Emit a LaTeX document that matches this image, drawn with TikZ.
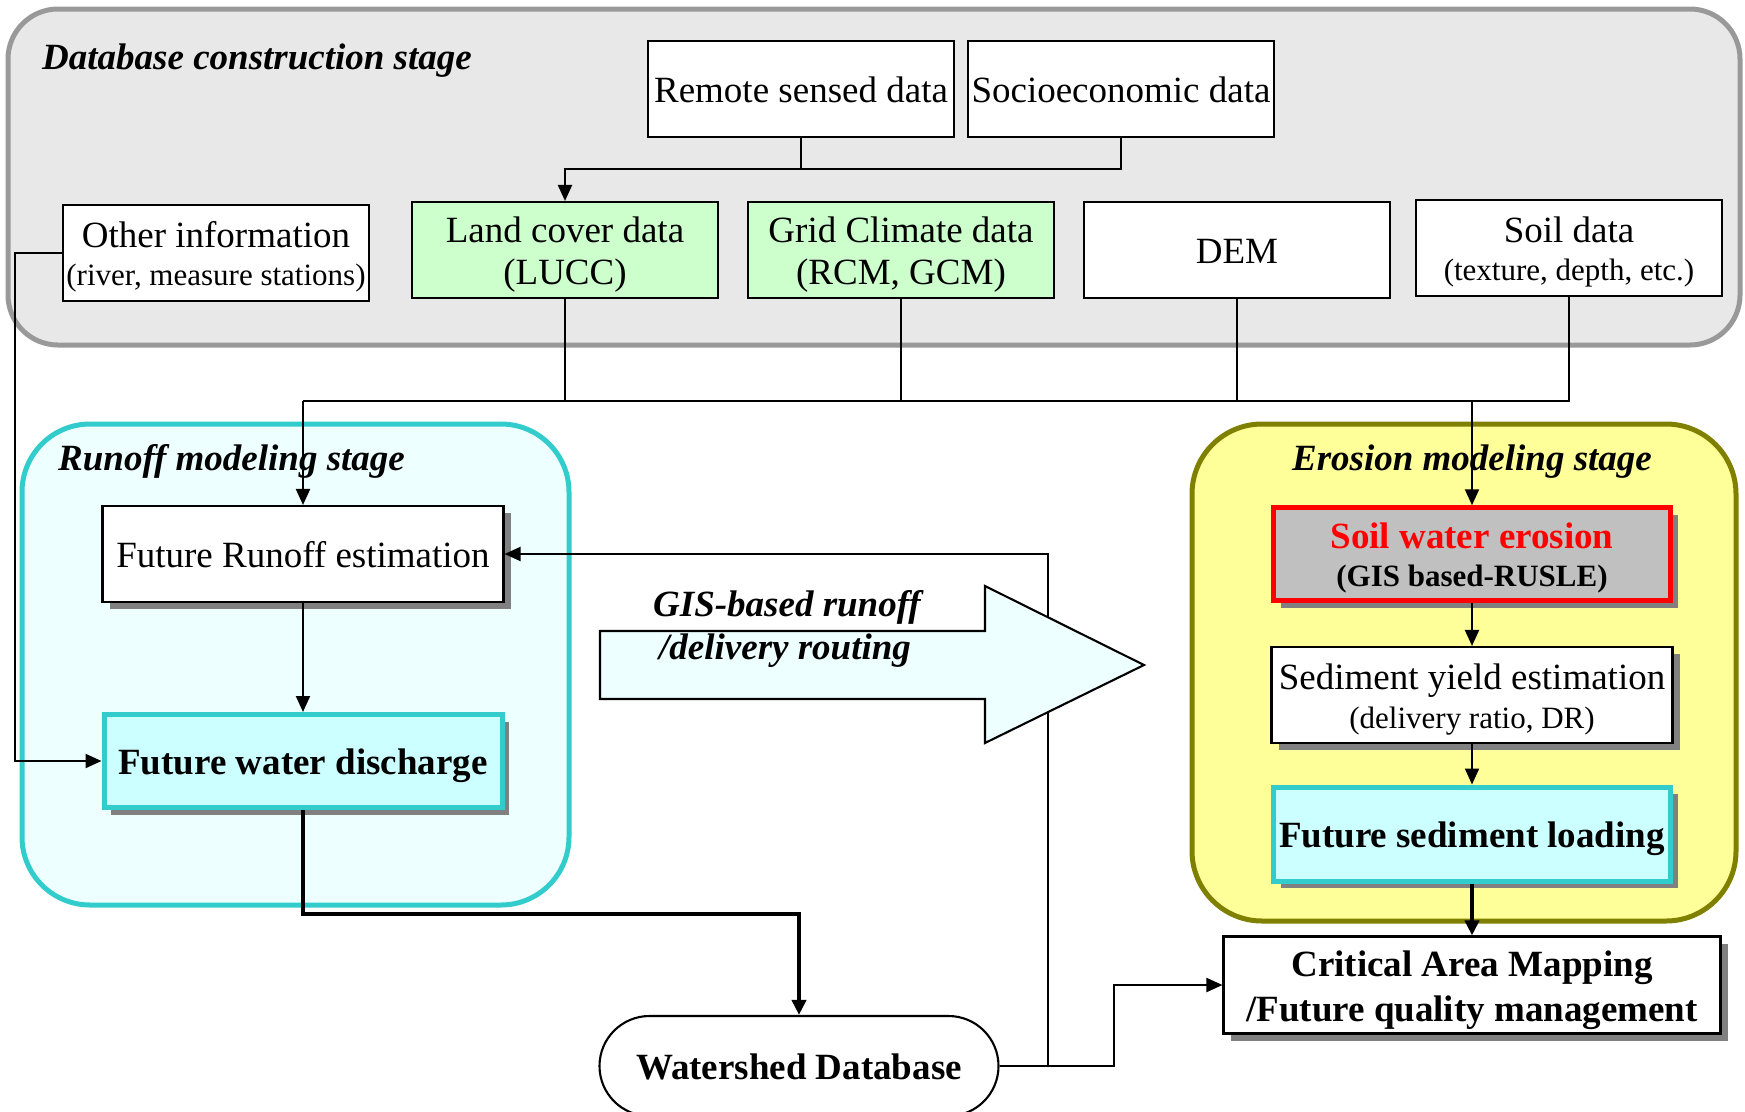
\documentclass[tikz,border=0pt]{standalone}
\usepackage{fontspec}
\setmainfont{Liberation Serif}
\usetikzlibrary{arrows.meta,shapes.misc,shadows}
\newcommand\bigtxt{\fontsize{37}{42}\selectfont}
\newcommand\subtxt{\fontsize{31}{38}\selectfont}
\newcommand\sth{\rule{0pt}{36pt}}
\newcommand\std{\rule[-9pt]{0pt}{9pt}}
\definecolor{dbfill}{HTML}{E8E8E8}
\definecolor{dbdraw}{HTML}{999999}
\definecolor{greenf}{HTML}{CCFFCC}
\definecolor{cyandraw}{HTML}{33CCCC}
\definecolor{runfill}{HTML}{EEFFFF}
\definecolor{cyanfill}{HTML}{CCFFFF}
\definecolor{erofill}{HTML}{FFFF99}
\definecolor{erodraw}{HTML}{808000}
\definecolor{swefill}{HTML}{C0C0C0}
\definecolor{shadowc}{HTML}{808080}
\begin{document}
\begin{tikzpicture}[x=1pt,y=-1pt,
  stage/.style={line width=5pt, inner sep=0pt},
  title/.style={font=\bigtxt\bfseries\itshape, inner sep=0pt},
  box/.style={draw=black, line width=2.1pt, fill=white, minimum width=306pt, minimum height=96pt, inner sep=0pt, align=center, font=\bigtxt},
  shad/.style={drop shadow={shadow xshift=7pt, shadow yshift=-7pt, fill=shadowc, opacity=1}},
  wbox/.style={box, minimum width=401pt, shad},
  conn/.style={line width=2.1pt},
  arr/.style={conn, -{Triangle[length=16pt,width=14pt]}},
  tarr/.style={line width=4pt, -{Triangle[length=15pt,width=14pt]}}
]
\useasboundingbox (0,0) rectangle (1745,1111);
% stages
\node[stage, draw=dbdraw, fill=dbfill, rounded corners=50pt, minimum width=1732pt, minimum height=336pt] (dbstage) at (874,177) {};
\node[stage, draw=cyandraw, fill=runfill, rounded corners=68pt, minimum width=547pt, minimum height=481pt] (runstage) at (295.5,664.5) {};
\node[stage, draw=erodraw, fill=erofill, rounded corners=70pt, minimum width=544pt, minimum height=497pt] (erostage) at (1464,672.5) {};
\node[title, anchor=west] (dbtitle) at (42,61) {Database construction stage};
\node[title, anchor=west] (runtitle) at (58,461) {Runoff modeling stage};
\node[title] (erotitle) at (1472,462) {Erosion modeling stage};
% database boxes
\node[box] (remote) at (801,89) {\sth Remote sensed data\std};
\node[box] (socio) at (1121,89) {\sth Socioeconomic data\std};
\node[box] (other) at (216,253) {\sth Other information\\[-4pt]{\subtxt(river, measure stations)\std}};
\node[box, fill=greenf] (land) at (565,250) {\sth Land cover data\\(LUCC)\std};
\node[box, fill=greenf] (grid) at (901,250) {\sth Grid Climate data\\(RCM, GCM)\std};
\node[box] (dem) at (1237,250) {\sth DEM\std};
\node[box] (soil) at (1569,248) {\sth Soil data\\[-4pt]{\subtxt(texture, depth, etc.)\std}};
% runoff boxes
\node[wbox] (fre) at (303,554) {\sth Future Runoff estimation\std};
\node[wbox, draw=cyandraw, line width=5pt, fill=cyanfill, minimum width=398pt, minimum height=93pt, font=\bigtxt\bfseries] (fwd) at (303,761) {\sth Future water discharge\std};
% erosion boxes
\node[wbox, draw=red, line width=4.5pt, fill=swefill, minimum width=397pt, minimum height=93pt, font=\bigtxt\bfseries] (swe) at (1472,554) {\sth\textcolor{red}{Soil water erosion}\\[-4pt]{\subtxt(GIS based-RUSLE)\std}};
\node[wbox] (sye) at (1472,695) {\sth Sediment yield estimation\\[-3pt]{\subtxt(delivery ratio, DR)\std}};
\node[wbox, draw=cyandraw, line width=5pt, fill=cyanfill, minimum width=397pt, minimum height=94pt, font=\bigtxt\bfseries] (fsl) at (1472,834) {\sth Future sediment loading\std};
\node[box, shad, minimum width=497pt, minimum height=97pt, font=\bigtxt\bfseries] (cam) at (1472,985) {\sth Critical Area Mapping\\[3pt]/Future quality management\std};
% watershed database
\node[draw=black, line width=2.1pt, fill=white, rounded rectangle, minimum width=399pt, minimum height=100pt, inner sep=0pt, font=\bigtxt\bfseries] (wd) at (799,1066) {\sth Watershed Database\std};
% connectors
\coordinate (busA) at (801,169);
\coordinate (bus) at (303,401);
\draw[arr] (remote.south) -- (busA) -| (land.north);
\draw[conn] (socio.south) |- (busA);
\draw[conn] (land.south) -- (land.south |- bus);
\draw[conn] (grid.south) -- (grid.south |- bus);
\draw[conn] (dem.south) -- (dem.south |- bus);
\draw[conn] (soil.south) -- (soil.south |- bus) -- (bus);
\draw[arr] (bus) -- (fre.north);
\draw[arr] (swe.north |- bus) -- (swe.north);
\draw[arr] (other.west) -- ++(-47,0) |- (fwd.west);
\draw[arr] (fre.south) -- (fwd.north);
\draw[tarr] (fwd.south) -- ++(0,104) -| (wd.north);
\draw[arr] (wd.east) -- ++(48,0) |- (fre.east);
\draw[arr] (wd.east) -- ++(114,0) |- (cam.west);
\draw[arr] (swe.south) -- (sye.north);
\draw[arr] (sye.south) -- (fsl.north);
\draw[tarr] (fsl.south) -- (cam.north);
% GIS block arrow
\draw[line width=2.1pt, fill=runfill, line join=miter] (600,631) -- (985,631) -- (985,586) -- (1144,665) -- (985,743) -- (985,699) -- (600,699) -- cycle;
\node[title] (gis1) at (787,607) {GIS-based runoff};
\node[title] (gis2) at (785,651) {/delivery routing};
\end{tikzpicture}
\end{document}
